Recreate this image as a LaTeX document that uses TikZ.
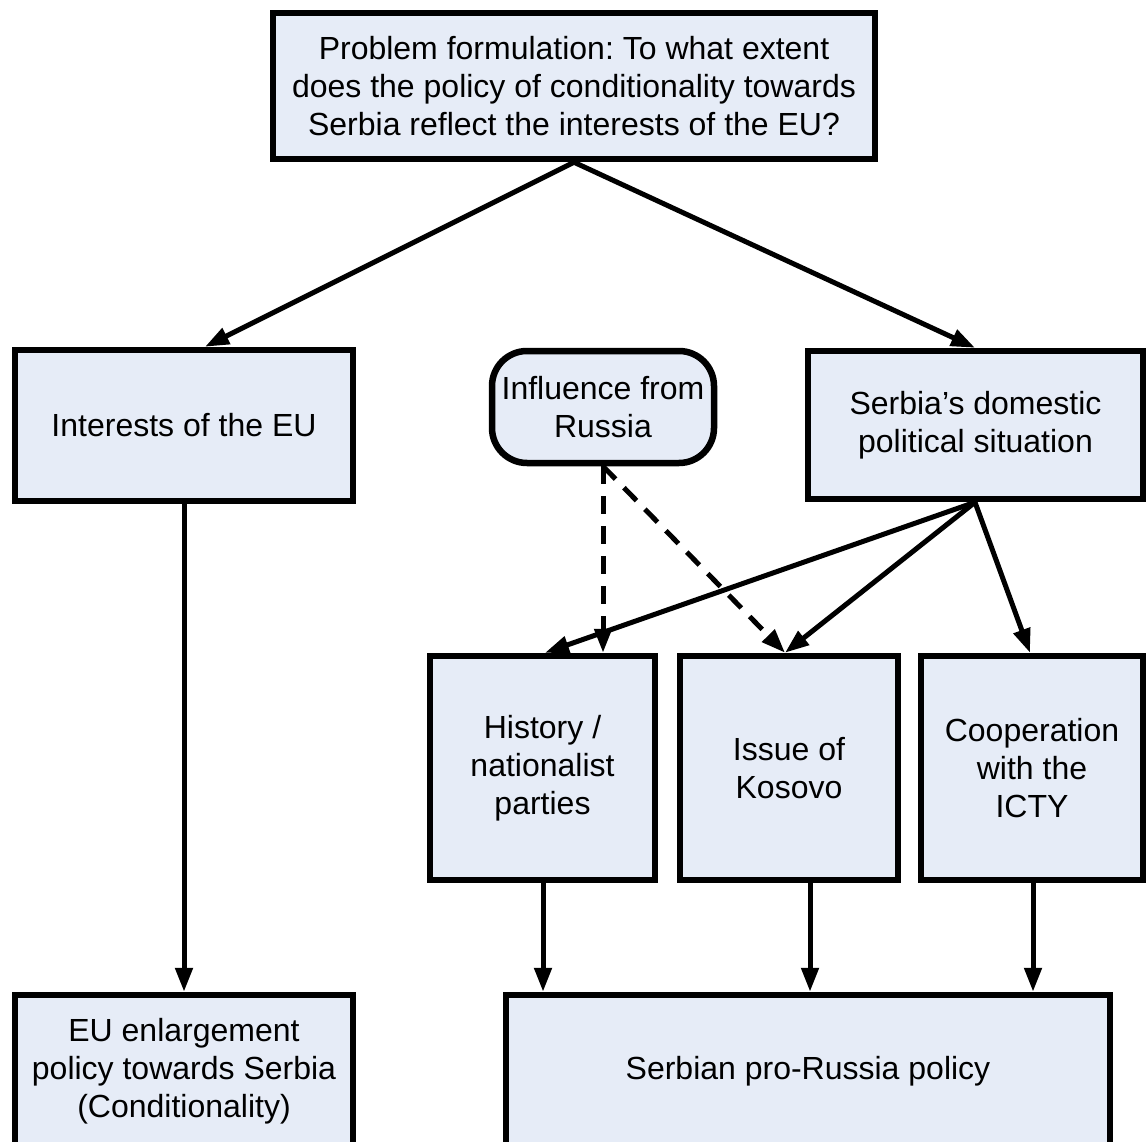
\documentclass[tikz,border=0pt]{standalone}
\usepackage{fontspec}
\setmainfont{Liberation Sans}
\usetikzlibrary{arrows.meta}
\definecolor{boxfill}{HTML}{E6ECF7}
\frenchspacing
\begin{document}
\begin{tikzpicture}[x=1pt,y=-1pt,
  box/.style={draw, line width=6.5pt, fill=boxfill, inner sep=0pt, align=center,
    font=\fontsize{32}{38}\selectfont},
  arr/.style={line width=5pt, -{Triangle[length=24pt,width=17pt]}},
  dasharr/.style={arr, dash pattern=on 18pt off 12pt}]
\useasboundingbox (0,0) rectangle (1148,1142);
\begin{scope}
\clip (0,0) rectangle (1148,1142);
\node[box, minimum width=602pt, minimum height=146pt] (top) at (574,86)
  {Problem formulation: To what extent\\does the policy of conditionality towards\\Serbia reflect the interests of the EU?};
\node[box, minimum width=338pt, minimum height=151pt] (eu) at (184,425.5) {Interests of the EU};
\node[box, minimum width=222pt, minimum height=112pt, rounded corners=35pt] (rus) at (603,407) {Influence from\\Russia};
\node[box, minimum width=335pt, minimum height=148pt] (dom) at (975.5,425) {Serbia’s domestic\\political situation};
\node[box, minimum width=225pt, minimum height=224pt] (hist) at (542.5,768) {History /\\nationalist\\parties};
\node[box, minimum width=218pt, minimum height=224pt] (kos) at (789,768) {Issue of\\Kosovo};
\node[box, minimum width=222pt, minimum height=224pt] (coop) at (1032,768) {Cooperation\\with the\\ICTY};
\node[box, minimum width=338pt, minimum height=152pt] (enl) at (184,1071) {EU enlargement\\policy towards Serbia\\(Conditionality)};
\node[box, minimum width=604pt, minimum height=152pt] (pro) at (808,1071) {Serbian pro-Russia policy};
\end{scope}
\coordinate (xa) at (205,0);
\coordinate (xb) at (975,0);
\coordinate (xh) at (545,0);
\coordinate (xk) at (785,0);
\coordinate (xc) at (1030,0);
\coordinate (xhb) at (543,0);
\coordinate (xkb) at (810,0);
\coordinate (xcb) at (1033,0);
\draw[arr] (top.south) -- (eu.north -| xa);
\draw[arr] (top.south) -- (dom.north -| xb);
\draw[arr] (eu.south) -- (enl.north);
\draw[arr] (dom.south -| xb) -- (hist.north -| xh);
\draw[arr] (dom.south -| xb) -- (kos.north -| xk);
\draw[arr] (dom.south -| xb) -- (coop.north -| xc);
\draw[dasharr] (rus.south) -- (hist.north -| rus.south);
\draw[dasharr] (rus.south) -- (kos.north -| xk);
\draw[arr] (hist.south -| xhb) -- (pro.north -| xhb);
\draw[arr] (kos.south -| xkb) -- (pro.north -| xkb);
\draw[arr] (coop.south -| xcb) -- (pro.north -| xcb);
\end{tikzpicture}
\end{document}
